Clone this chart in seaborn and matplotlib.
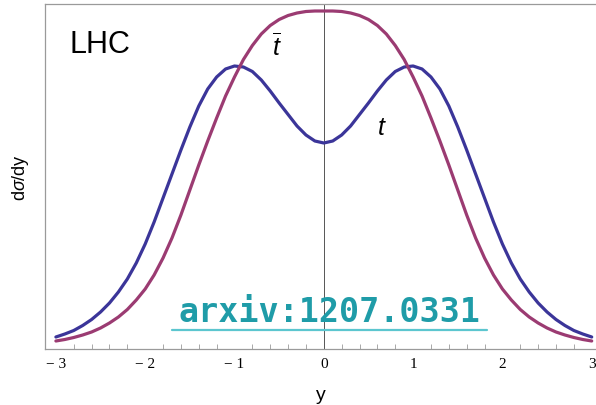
import matplotlib
matplotlib.use("Agg")
import matplotlib.pyplot as plt
import seaborn as sns
import pandas as pd
from matplotlib.ticker import MultipleLocator

# rapidity grid (0.1 steps)
rapidity = [round(-3.0 + 0.1 * i, 1) for i in range(61)]

# half-curves for y >= 0; distributions are symmetric in y
t_half = [206, 208, 214, 223, 234.5, 246, 258, 269, 277.5, 282, 283,
          280, 272, 260, 243, 222, 199, 175, 151, 127, 105,
          86, 70, 57, 46, 37, 29.5, 23.5, 18.5, 15, 12]
tbar_half = [338, 338, 337.5, 336, 333.5, 329.5, 323.5, 315, 303.5, 289.5, 272,
             253, 231, 208, 184, 159, 134, 111, 91, 74, 60,
             49, 39.5, 32, 26, 21, 17, 14, 11.5, 9.5, 8]

t_values = t_half[:0:-1] + t_half
tbar_values = tbar_half[:0:-1] + tbar_half

tick_positions = [-3, -2, -1, 0, 1, 2, 3]
tick_labels = ["\u2212 3", "\u2212 2", "\u2212 1", "0", "1", "2", "3"]

sns.set_style("white")
plt.rcParams["font.family"] = ["Liberation Sans", "DejaVu Sans"]
plt.rcParams["mathtext.fontset"] = "custom"
plt.rcParams["mathtext.it"] = "Liberation Sans:italic"
plt.rcParams["mathtext.rm"] = "Liberation Sans"
plt.rcParams["text.color"] = "black"
plt.rcParams["axes.labelcolor"] = "black"
plt.rcParams["xtick.labelcolor"] = "black"

df = pd.DataFrame({
    "y": rapidity * 2,
    "val": t_values + tbar_values,
    "series": ["t"] * len(rapidity) + ["tbar"] * len(rapidity),
})

fig = plt.figure(figsize=(5.96, 4.06), dpi=100)
ax = fig.add_axes([45 / 596, 56 / 406, 551 / 596, 345 / 406])

ax.axvline(0, color="#555555", lw=0.7, zorder=1)

sns.lineplot(data=df, x="y", y="val", hue="series",
             palette={"t": "#3b3599", "tbar": "#9b3b72"},
             linewidth=2.3, legend=False, ax=ax, zorder=3)

ax.set_xlim(-3.122, 3.048)
ax.set_ylim(0, 345)

for side in ["left", "bottom", "top"]:
    ax.spines[side].set_color("#9a9a9a")
    ax.spines[side].set_linewidth(0.9)
ax.spines["right"].set_visible(False)

ax.set_xticks(tick_positions)
ax.set_xticklabels(tick_labels, family="Liberation Serif", fontsize=11, color="black")
ax.xaxis.set_minor_locator(MultipleLocator(0.2))
ax.tick_params(axis="x", which="major", direction="in", length=6, width=0.8,
               color="#9a9a9a", pad=6)
ax.tick_params(axis="x", which="minor", direction="in", length=3.5, width=0.6,
               color="#9a9a9a", bottom=True)
ax.set_yticks([])

ax.set_xlabel("y", fontsize=14, labelpad=11, color="black")
ax.set_ylabel(r"d$\sigma$/dy", fontsize=13, labelpad=10, color="black")

ax.text(-2.85, 305, "LHC", fontsize=22, ha="left", va="center", color="black")
ax.text(-0.52, 303, r"$\overline{t}$", fontsize=18, ha="center", va="center", color="black")
ax.text(0.65, 222, r"$t$", fontsize=18, ha="center", va="center", color="black")

ax.text(0.06, 37, "arxiv:1207.0331", family="DejaVu Sans Mono", fontweight="bold",
        fontsize=24, color="#1f9ca8", ha="center", va="center", zorder=4)
ax.plot([-1.7, 1.83], [19, 19], color="#5cc6cf", lw=1.6, zorder=4)

fig.savefig("out.png", dpi=100)
